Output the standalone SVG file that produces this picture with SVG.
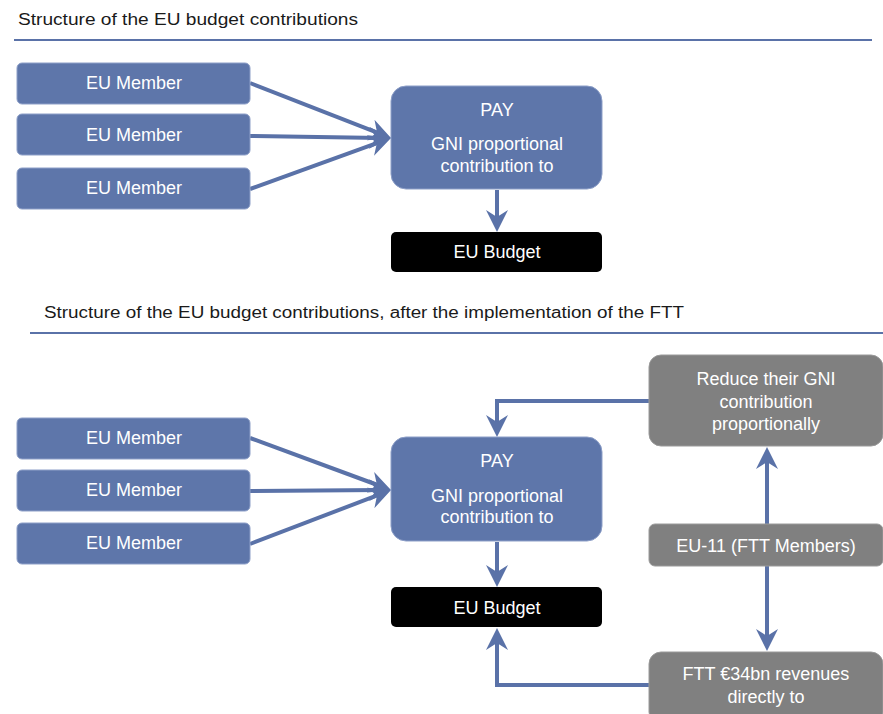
<svg xmlns="http://www.w3.org/2000/svg" width="883" height="714" viewBox="0 0 883 714">
<defs>
<style>
.title{font-family:"Liberation Sans",Arial,sans-serif;font-size:16px;fill:#1a1a1a}
.rule{stroke:#5a72a8;stroke-width:2;fill:none}
.blue{fill:#5e76aa;stroke:#8d9fc8;stroke-width:1}
.grey{fill:#808080;stroke:#9a9a9a;stroke-width:1}
.black{fill:#000000}
.lbl{font-family:"Liberation Sans",Arial,sans-serif;font-size:18px;fill:#ffffff;text-anchor:middle}
.conn{stroke:#5a72a8;stroke-width:4;fill:none;marker-end:url(#ah)}
</style>
<marker id="ah" markerUnits="userSpaceOnUse" viewBox="0 0 22 22" refX="12" refY="11" markerWidth="22" markerHeight="22" orient="auto">
<path d="M0,0 L22,11 L0,22 L7,11 z" fill="#5a72a8"/>
</marker>
</defs>
<rect width="883" height="714" fill="#ffffff"/>

<text class="title" x="18" y="25" textLength="340" lengthAdjust="spacingAndGlyphs">Structure of the EU  budget contributions</text>
<line class="rule" x1="14" y1="40" x2="872" y2="40"/>
<text class="title" x="44" y="318" textLength="640" lengthAdjust="spacingAndGlyphs">Structure of the EU  budget contributions, after the implementation of the FTT</text>
<line class="rule" x1="30" y1="333" x2="883" y2="333"/>

<g id="connectors">
<line class="conn" x1="250" y1="83" x2="381.7" y2="134.4"/>
<line class="conn" x1="250" y1="136" x2="381" y2="137.9"/>
<line class="conn" x1="250" y1="189" x2="381.6" y2="141.4"/>
<line class="conn" x1="497" y1="190" x2="497" y2="222"/>
<line class="conn" x1="250" y1="438" x2="381.6" y2="486.5"/>
<line class="conn" x1="250" y1="491" x2="381" y2="490"/>
<line class="conn" x1="250" y1="544" x2="381.7" y2="493.6"/>
<line class="conn" x1="497" y1="542" x2="497" y2="577"/>
<path class="conn" d="M649,401 H497 V427"/>
<line class="conn" x1="767" y1="524" x2="767" y2="457"/>
<line class="conn" x1="767" y1="566" x2="767" y2="641"/>
<path class="conn" d="M649,685 H497 V638"/>
</g>

<g id="m1"><rect class="blue" x="17" y="63" width="233" height="41" rx="5"/><text class="lbl" x="134" y="89">EU Member</text></g>
<g id="m2"><rect class="blue" x="17" y="114" width="233" height="41" rx="5"/><text class="lbl" x="134" y="141">EU Member</text></g>
<g id="m3"><rect class="blue" x="17" y="168" width="233" height="41" rx="5"/><text class="lbl" x="134" y="194">EU Member</text></g>
<g id="pay1"><rect class="blue" x="391" y="86" width="211" height="103" rx="15"/>
<text class="lbl" x="497" y="116">PAY</text>
<text class="lbl" x="497" y="150">GNI proportional</text>
<text class="lbl" x="497" y="172">contribution to</text></g>
<g id="budget1"><rect class="black" x="391" y="232" width="211" height="40" rx="5"/><text class="lbl" x="497" y="258">EU Budget</text></g>

<g id="m4"><rect class="blue" x="17" y="418" width="233" height="41" rx="5"/><text class="lbl" x="134" y="444">EU Member</text></g>
<g id="m5"><rect class="blue" x="17" y="470" width="233" height="41" rx="5"/><text class="lbl" x="134" y="496">EU Member</text></g>
<g id="m6"><rect class="blue" x="17" y="523" width="233" height="41" rx="5"/><text class="lbl" x="134" y="549">EU Member</text></g>
<g id="pay2"><rect class="blue" x="391" y="437" width="211" height="104" rx="15"/>
<text class="lbl" x="497" y="467">PAY</text>
<text class="lbl" x="497" y="502">GNI proportional</text>
<text class="lbl" x="497" y="523">contribution to</text></g>
<g id="budget2"><rect class="black" x="391" y="587" width="211" height="40" rx="5"/><text class="lbl" x="497" y="614">EU Budget</text></g>

<g id="reduce"><rect class="grey" x="649" y="355" width="234" height="91" rx="12"/>
<text class="lbl" x="766" y="385">Reduce their GNI</text>
<text class="lbl" x="766" y="408">contribution</text>
<text class="lbl" x="766" y="430">proportionally</text></g>
<g id="eu11"><rect class="grey" x="649" y="524" width="234" height="42" rx="6"/><text class="lbl" x="766" y="552">EU-11 (FTT Members)</text></g>
<g id="ftt"><rect class="grey" x="649" y="652" width="234" height="72" rx="12"/>
<text class="lbl" x="766" y="680">FTT €34bn revenues</text>
<text class="lbl" x="766" y="703">directly to</text></g>
</svg>
